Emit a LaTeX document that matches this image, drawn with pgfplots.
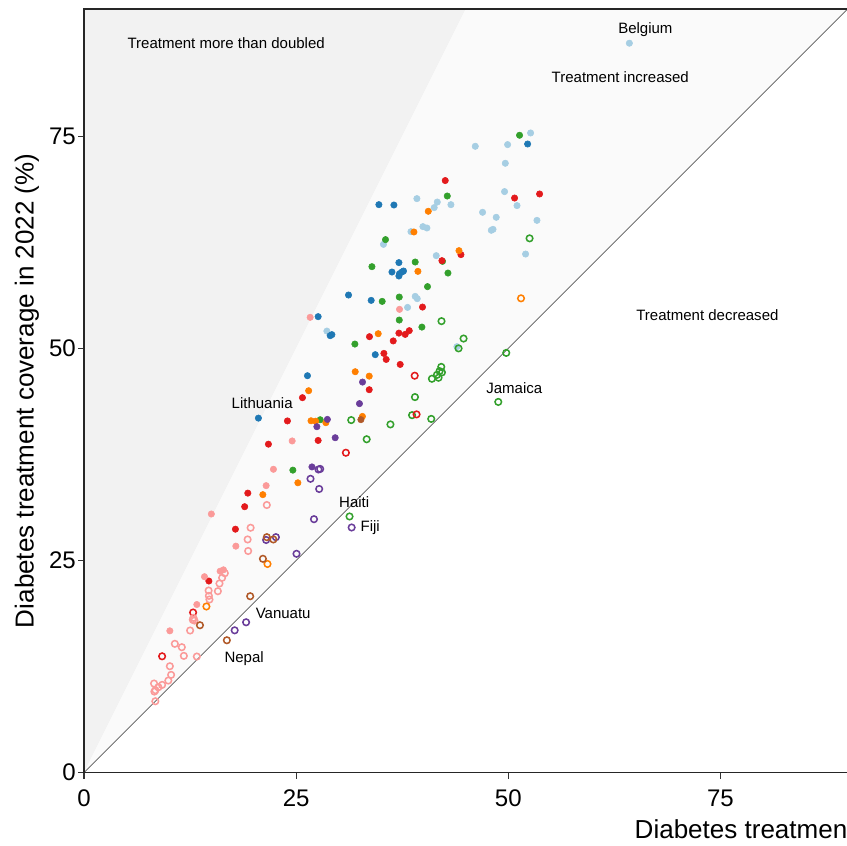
\documentclass[border=0pt]{standalone}
\usepackage{fontspec}
\setmainfont{Liberation Sans}
\usepackage{pgfplots}
\pgfplotsset{compat=1.18}

% Paired palette
\definecolor{lblue}{HTML}{A6CEE3}
\definecolor{dblue}{HTML}{1F78B4}
\definecolor{lgreen}{HTML}{33A02C}
\definecolor{dred}{HTML}{E31A1C}
\definecolor{lpink}{HTML}{FB9A99}
\definecolor{dorange}{HTML}{FF7F00}
\definecolor{dpurple}{HTML}{6A3D9A}
\definecolor{dbrown}{HTML}{B15928}
\definecolor{zonedoubled}{HTML}{F2F2F2}
\definecolor{zoneincreased}{HTML}{FAFAFA}

\pgfplotsset{
  filled/.style={only marks, mark=*, mark size=2.4pt, color=#1},
  hollow/.style={only marks, mark=o, mark size=2.45pt, color=#1,
                 mark options={line width=1.15pt}},
}

\newcommand{\annot}{\fontsize{11.25}{13}\selectfont}

\begin{document}
\begin{tikzpicture}
\useasboundingbox (-63pt,-54.75pt) rectangle (571.75pt,579pt);
\clip (-63pt,-54.75pt) rectangle (571.75pt,579pt);
\begin{axis}[
  scale only axis,
  width=572.25pt, height=572.25pt,
  xmin=0, xmax=90, ymin=0, ymax=90,
  axis on top,
  axis line style={draw=black!85, line width=1pt},
  xtick={0,25,50,75}, ytick={0,25,50,75},
  tick pos=left,
  tick align=outside,
  major tick length=4.5pt,
  every tick/.style={draw=black!80, line width=1pt},
  /pgf/number format/assume math mode=true,
  ticklabel style={font=\fontsize{18}{18}\selectfont},
  yticklabel style={inner sep=0pt, xshift=-1.5pt},
  xticklabel style={inner sep=0pt, yshift=-8pt},
  xlabel={Diabetes treatment coverage in 1990 (\%)},
  ylabel={Diabetes treatment coverage in 2022 (\%)},
  xlabel style={font=\fontsize{19.5}{20}\selectfont, inner sep=0pt,
                at={(axis description cs:0.7208,-0.0865)}, anchor=base west},
  ylabel style={font=\fontsize{19.5}{20}\selectfont,
                at={(axis description cs:-0.0747,0.5)}, anchor=center},
  title={Women (30+ years)},
  title style={font=\fontsize{19.5}{20}\selectfont\bfseries, inner sep=0pt,
               at={(axis description cs:0.6474,1.0079)}, anchor=base east},
]

% shaded zones
\addplot[draw=none, fill=zonedoubled] coordinates {(0,0) (45,90) (0,90)} -- cycle;
\addplot[draw=none, fill=zoneincreased] coordinates {(0,0) (90,90) (45,90)} -- cycle;
% no change line
\addplot[draw=black!65, line width=0.6pt] coordinates {(0,0) (90,90)};

\addplot[filled=lblue] coordinates {
(52.63,75.39) (46.11,73.82) (49.92,74.02) (49.65,71.82) (49.56,68.48)
(51.03,66.83) (39.23,67.65) (41.63,67.25) (43.24,66.94) (41.27,66.59)
(46.97,66.04) (48.58,65.45) (53.38,65.09) (39.94,64.35) (40.41,64.19)
(38.53,63.76) (48.00,63.92) (48.20,64.03) (35.29,62.26) (52.04,61.12)
(41.51,60.93) (39.03,56.13) (39.27,55.86) (38.13,54.83) (28.62,52.04)
(43.95,50.20) (64.27,85.97)
};
\addplot[filled=dblue] coordinates {
(52.28,74.09) (34.75,66.94) (36.52,66.90) (37.11,60.11) (36.29,59.00)
(37.18,58.81) (37.46,59.00) (37.65,59.12) (37.11,58.53) (31.17,56.29)
(33.84,55.66) (27.59,53.74) (29.01,51.50) (29.21,51.62) (34.32,49.26)
(26.33,46.78) (20.55,41.78)
};
\addplot[filled=lgreen] coordinates {
(51.33,75.12) (42.81,67.96) (35.53,62.82) (39.03,60.18) (42.25,60.26)
(33.93,59.63) (42.89,58.88) (40.48,57.28) (35.14,55.54) (37.15,56.05)
(37.15,53.34) (39.82,52.51) (31.92,50.51) (27.83,41.59) (24.61,35.65)
};
\addplot[hollow=lgreen] coordinates {
(52.51,62.97) (42.13,53.21) (44.73,51.16) (44.14,50.00) (49.76,49.47)
(42.10,47.82) (41.90,47.32) (42.18,47.17) (41.59,46.87) (41.78,46.54)
(41.00,46.42) (48.82,43.69) (39.00,44.26) (38.66,42.13) (40.92,41.69)
(31.49,41.55) (36.11,41.04) (33.31,39.29) (31.29,30.19)
};
\addplot[filled=dred] coordinates {
(42.57,69.78) (50.74,67.72) (53.69,68.20) (44.42,61.05) (42.18,60.34)
(39.89,54.87) (33.64,51.38) (37.11,51.80) (37.85,51.65) (38.33,52.09)
(36.44,50.88) (35.34,49.41) (35.61,48.70) (37.26,48.11) (33.61,45.13)
(25.74,44.19) (23.97,41.45) (27.59,39.15) (21.73,38.71) (19.30,32.94)
(18.93,31.34) (17.84,28.69) (14.71,22.58)
};
\addplot[hollow=dred] coordinates {
(38.97,46.78) (39.19,42.22) (30.86,37.70) (12.85,18.87) (9.20,13.71)
};
\addplot[filled=lpink] coordinates {
(37.18,54.60) (26.65,53.66) (24.53,39.09) (22.32,35.75) (21.46,33.82)
(15.00,30.48) (17.89,26.69) (16.04,23.74) (16.43,23.90) (14.19,23.09)
(13.29,19.81) (10.11,16.71)
};
\addplot[hollow=lpink] coordinates {
(21.54,31.54) (19.63,28.86) (19.28,27.48) (19.34,26.12) (16.59,23.50)
(16.27,22.96) (15.96,22.29) (15.77,21.38) (14.68,21.46) (14.71,20.83)
(14.78,20.40) (12.89,18.24) (13.01,17.92) (12.82,18.01) (12.50,16.75)
(10.70,15.18) (11.52,14.78) (11.76,13.76) (13.29,13.68) (10.11,12.54)
(10.26,11.52) (9.93,10.85) (8.25,10.50) (9.20,10.34) (8.76,10.06)
(8.41,9.71) (8.29,9.55) (8.40,8.41)
};
\addplot[filled=dorange] coordinates {
(40.57,66.16) (38.88,63.72) (44.19,61.52) (39.35,59.08) (34.67,51.73)
(31.96,47.25) (33.61,46.73) (26.47,45.01) (26.75,41.47) (27.30,41.42)
(28.50,41.24) (32.81,41.98) (25.20,34.16) (21.07,32.76)
};
\addplot[hollow=dorange] coordinates {
(51.50,55.90) (21.62,24.59) (14.42,19.58)
};
\addplot[filled=dpurple] coordinates {
(32.82,46.03) (32.46,43.49) (28.68,41.63) (27.44,40.77) (29.60,39.47)
(26.86,36.03)
};
\addplot[hollow=dpurple] coordinates {
(27.63,35.73) (27.83,35.79) (26.69,34.63) (27.71,33.43) (27.10,29.87)
(31.54,28.89) (21.46,27.42) (22.61,27.75) (25.04,25.79) (19.10,17.72)
(17.75,16.77)
};
\addplot[filled=dbrown] coordinates {(32.63,41.60)};
\addplot[hollow=dbrown] coordinates {
(21.54,27.75) (22.31,27.48) (21.08,25.20) (19.58,20.79) (13.66,17.37)
(16.83,15.60)
};

% zone and country annotations
\node[font=\annot] at (axis cs:16.75,85.97) {Treatment more than doubled};
\node[font=\annot] at (axis cs:63.2,81.96) {Treatment increased};
\node[font=\annot] at (axis cs:73.47,53.89) {Treatment decreased};
\node[font=\annot] at (axis cs:66.16,87.62) {Belgium};
\node[font=\annot] at (axis cs:20.99,43.51) {Lithuania};
\node[font=\annot] at (axis cs:50.71,45.28) {Jamaica};
\node[font=\annot] at (axis cs:31.84,31.84) {Haiti};
\node[font=\annot] at (axis cs:33.73,28.89) {Fiji};
\node[font=\annot] at (axis cs:23.47,18.75) {Vanuatu};
\node[font=\annot] at (axis cs:18.87,13.44) {Nepal};
\end{axis}
\end{tikzpicture}
\end{document}
